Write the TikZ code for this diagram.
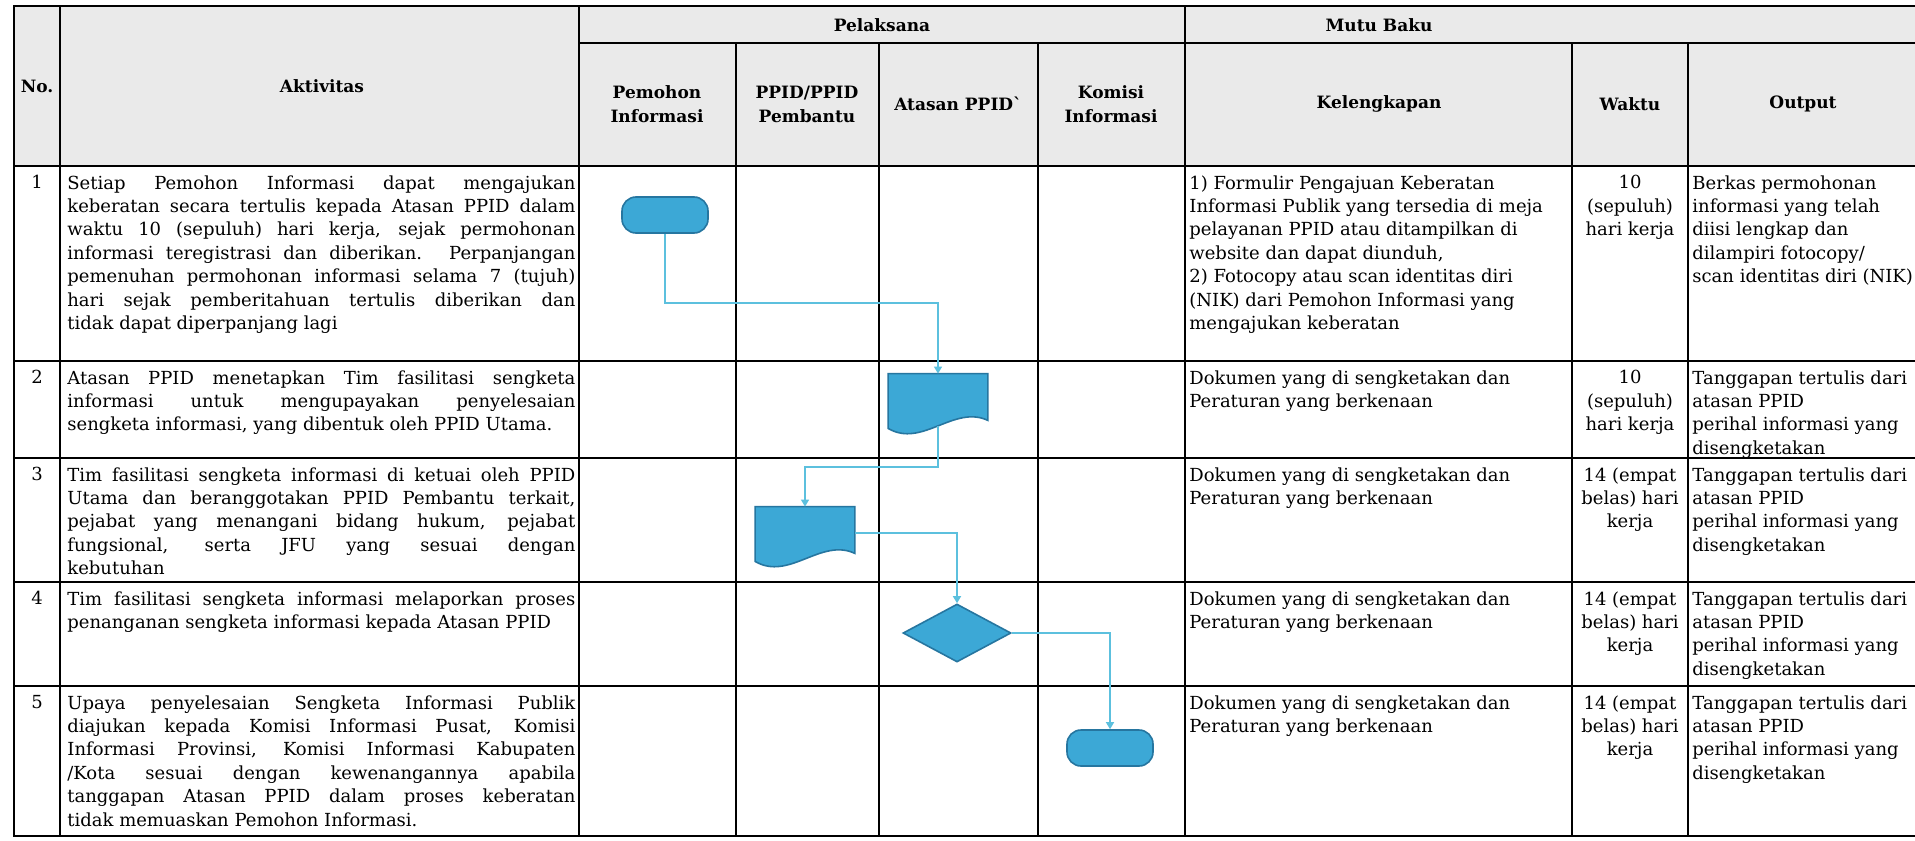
\documentclass[tikz,border=0pt]{standalone}
\usepackage{fontspec}
\setmainfont{DejaVu Serif}
\usetikzlibrary{shapes.geometric,arrows.meta,calc}
\definecolor{flowfill}{RGB}{60,168,214}
\definecolor{flowline}{RGB}{38,118,160}
\definecolor{linkline}{RGB}{92,192,222}
\definecolor{headgray}{RGB}{234,234,234}
\tolerance=9999
\hbadness=10000
% wavy document symbol drawn round an empty node
\newcommand\docshape[1]{%
  \filldraw[draw=flowline, fill=flowfill, line width=0.8pt] (#1.north west) -- (#1.north east)
    -- ($(#1.south east)+(0,-6)$) .. controls ($(#1.south)+(16,-22)$) and ($(#1.south)+(-16,22)$)
    .. ($(#1.south west)+(0,2)$) -- cycle;}

\begin{document}
\begin{tikzpicture}[x=0.5pt, y=-0.5pt,
    grid/.style={line width=0.8pt},
    rim/.style={line width=1.3pt},
    head/.style={font=\fontsize{8.5pt}{12pt}\selectfont\bfseries, align=center, inner sep=0pt},
    body/.style={font=\fontsize{9pt}{11.7pt}\selectfont, inner sep=0pt},
    act/.style={body, anchor=north west, text width=254pt, align=justify},
    side/.style={body, anchor=north west, align=left},
    mid/.style={body, anchor=north, align=center},
    terminal/.style={draw=flowline, fill=flowfill, line width=0.8pt, rounded corners=7pt,
        minimum width=43pt, minimum height=18pt, inner sep=0pt},
    docbox/.style={minimum width=49.5pt, minimum height=26pt, inner sep=0pt},
    choice/.style={diamond, draw=flowline, fill=flowfill, line width=0.8pt,
        minimum width=54pt, minimum height=29pt, inner sep=0pt},
    link/.style={draw=linkline, line width=0.7pt, -{Triangle[length=3.5pt,width=4pt]}}]
    \useasboundingbox (0,0) rectangle (1915,840);
    \fill[white] (0,0) rectangle (1915,840);
    \fill[headgray] (14,6) rectangle (1915,166);
    % table rules
    \foreach \y in {166,361,458,582,686}
        \draw[grid] (14,\y) -- (1915,\y);
    \draw[grid] (579,43) -- (1915,43);
    \foreach \x in {60,579,1185}
        \draw[grid] (\x,6) -- (\x,836);
    \foreach \x in {736,879,1038,1572,1688}
        \draw[grid] (\x,43) -- (\x,836);
    \draw[rim] (1915,6) -- (14,6) -- (14,836) -- (1915,836);
    % header
    \node[head] (hno) at (37,86) {No.};
    \node[head] (hakt) at (322,86) {Aktivitas};
    \node[head] (hpel) at (882,25) {Pelaksana};
    \node[head] (hmutu) at (1379,25) {Mutu Baku};
    \node[head] (hpem) at (657,104) {Pemohon\\Informasi};
    \node[head] (hppid) at (807,104) {PPID/PPID\\Pembantu};
    \node[head] (hatas) at (958,104) {Atasan PPIDˋ};
    \node[head] (hkom) at (1111,104) {Komisi\\Informasi};
    \node[head] (hkel) at (1379,104) {Kelengkapan};
    \node[head] (hwak) at (1630,104) {Waktu};
    \node[head] (hout) at (1803,104) {Output};
    % numbers
    \foreach \n/\y in {1/175,2/370,3/467,4/591,5/695}
        \node[mid] (no\n) at (37,\y) {\n};
    % activities
    \node[act] (akt1) at (67,175) {Setiap Pemohon Informasi dapat mengajukan\linebreak
        keberatan secara tertulis kepada Atasan PPID dalam\linebreak
        waktu 10 (sepuluh) hari kerja, sejak permohonan\linebreak
        informasi teregistrasi dan diberikan. Perpanjangan\linebreak
        pemenuhan permohonan informasi selama 7 (tujuh)\linebreak
        hari sejak pemberitahuan tertulis diberikan dan\linebreak
        tidak dapat diperpanjang lagi};
    \node[act] (akt2) at (67,370) {Atasan PPID menetapkan Tim fasilitasi sengketa\linebreak
        informasi untuk mengupayakan penyelesaian\linebreak
        sengketa informasi, yang dibentuk oleh PPID Utama.};
    \node[act] (akt3) at (67,467) {Tim fasilitasi sengketa informasi di ketuai oleh PPID\linebreak
        Utama dan beranggotakan PPID Pembantu terkait,\linebreak
        pejabat yang menangani bidang hukum, pejabat\linebreak
        fungsional, serta JFU yang sesuai dengan\linebreak
        kebutuhan};
    \node[act] (akt4) at (67,591) {Tim fasilitasi sengketa informasi melaporkan proses\linebreak
        penanganan sengketa informasi kepada Atasan PPID};
    \node[act] (akt5) at (67,695) {Upaya penyelesaian Sengketa Informasi Publik\linebreak
        diajukan kepada Komisi Informasi Pusat, Komisi\linebreak
        Informasi Provinsi, Komisi Informasi Kabupaten\linebreak
        /Kota sesuai dengan kewenangannya apabila\linebreak
        tanggapan Atasan PPID dalam proses keberatan\linebreak
        tidak memuaskan Pemohon Informasi.};
    % mutu baku
    \node[side] (kel1) at (1189,175) {1) Formulir Pengajuan Keberatan\\
        Informasi Publik yang tersedia di meja\\pelayanan PPID atau ditampilkan di\\
        website dan dapat diunduh,\\2) Fotocopy atau scan identitas diri\\
        (NIK) dari Pemohon Informasi yang\\mengajukan keberatan};
    \foreach \r/\y in {2/370,3/467,4/591,5/695}
        \node[side] (kel\r) at (1189,\y) {Dokumen yang di sengketakan dan\\Peraturan yang berkenaan};
    \foreach \r/\y in {1/175,2/370}
        \node[mid] (wkt\r) at (1630,\y) {10\\(sepuluh)\\hari kerja};
    \foreach \r/\y in {3/467,4/591,5/695}
        \node[mid] (wkt\r) at (1630,\y) {14 (empat\\belas) hari\\kerja};
    \node[side] (out1) at (1692,175) {Berkas permohonan\\informasi yang telah\\diisi lengkap dan\\
        dilampiri fotocopy/\\scan identitas diri (NIK)};
    \foreach \r/\y in {2/370,3/467,4/591,5/695}
        \node[side] (out\r) at (1692,\y) {Tanggapan tertulis dari\\atasan PPID\\perihal informasi yang\\disengketakan};
    % flow
    \node[terminal] (mulai) at (665,215) {};
    \node[docbox] (tetap) at (938,400) {};
    \node[docbox] (tim) at (805,533) {};
    \node[choice] (lapor) at (957,633) {};
    \node[terminal] (selesai) at (1110,748) {};
    \docshape{tetap}
    \docshape{tim}
    \coordinate (belok1) at (800,303);
    \coordinate (belok2) at (870,467);
    \draw[link] (mulai.south) |- (belok1) -| (tetap.north);
    \draw[link] (tetap.south) |- (belok2) -| (tim.north);
    \draw[link] (tim.east) -| (lapor.north);
    \draw[link] (lapor.east) -| (selesai.north);
\end{tikzpicture}
\end{document}
